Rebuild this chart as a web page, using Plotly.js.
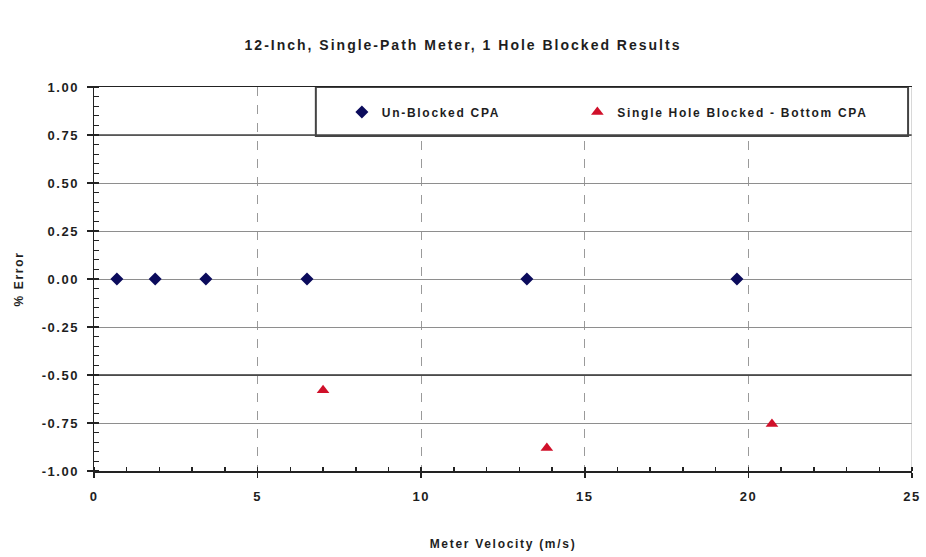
<!DOCTYPE html>
<html>
<head>
<meta charset="utf-8">
<script src="https://cdn.plot.ly/plotly-3.0.1.min.js"></script>
<style>
  html, body { margin: 0; padding: 0; background: #fff; }
  #chart { width: 926px; height: 557px; }
  .gtitle { letter-spacing: 2px; }
  .xtitle, .ytitle { letter-spacing: 1.7px; }
  text.legendtext, [class*="legend"] text { letter-spacing: 1.7px !important; }
  [class*="legend"] .scrollbox { clip-path: none !important; }
  #js-plotly-tester text { letter-spacing: 1.7px; }
  .xtick text, .ytick text { letter-spacing: 1.5px; }
</style>
</head>
<body>
<div id="chart"></div>
<script>
// ---- data ----
const unblockedX = [0.70, 1.87, 3.42, 6.51, 13.23, 19.65];
const unblockedY = [0.00, 0.00, 0.00, 0.00, 0.00, 0.00];
const blockedX = [7.00, 13.84, 20.72];
const blockedY = [-0.58, -0.88, -0.755];

const seriesNames = ['Un-Blocked CPA', 'Single Hole Blocked - Bottom CPA'];
const yTickVals = [-1, -0.75, -0.5, -0.25, 0, 0.25, 0.5, 0.75, 1];
const yTickText = ['-1.00', '-0.75', '-0.50', '-0.25', '0.00', '0.25', '0.50', '0.75', '1.00'];
const xTickVals = [0, 5, 10, 15, 20, 25];
const xTickText = ['0', '5', '10', '15', '20', '25'];

const FONT = '"Liberation Sans", Arial, Helvetica, sans-serif';
const INK = '#1e1e1e';

const traces = [
  {
    x: unblockedX, y: unblockedY, name: seriesNames[0],
    type: 'scatter', mode: 'markers', legend: 'legend',
    marker: { symbol: 'diamond', size: 10, color: '#0b0b5c' }
  },
  {
    x: blockedX, y: blockedY, name: seriesNames[1],
    type: 'scatter', mode: 'markers', legend: 'legend2',
    marker: { symbol: 'triangle-up', size: 11, color: '#d0102a' }
  }
];

const legendCommon = {
  orientation: 'h', xanchor: 'left', xref: 'paper',
  y: 0.935, yanchor: 'middle', yref: 'paper',
  bgcolor: 'rgba(0,0,0,0)', borderwidth: 0,
  font: { family: FONT, size: 12, weight: 700, color: INK },
  itemwidth: 30
};

const layout = {
  width: 926, height: 557,
  margin: { l: 94, r: 14, t: 87, b: 86 },
  paper_bgcolor: '#ffffff', plot_bgcolor: '#ffffff',
  font: { family: FONT, color: INK, size: 12 },
  showlegend: true,
  title: {
    text: '12-Inch, Single-Path Meter, 1 Hole Blocked Results',
    font: { family: FONT, size: 14, weight: 700, color: INK },
    xref: 'container', x: 0.5, xanchor: 'center',
    yref: 'container', y: 1 - 45 / 557, yanchor: 'middle'
  },
  xaxis: {
    range: [0, 25], fixedrange: true,
    tickmode: 'array', tickvals: xTickVals, ticktext: xTickText,
    ticks: 'outside', ticklen: 5, tickwidth: 1.5, tickcolor: '#222',
    showline: true, linecolor: '#222', linewidth: 1.5, mirror: true,
    showgrid: true, gridcolor: '#9a9a9a', griddash: 'dash', gridwidth: 1,
    zeroline: false,
    minor: { dtick: 1, tick0: 0, ticks: 'inside', ticklen: 4, tickwidth: 1.5, tickcolor: '#222', showgrid: false },
    tickfont: { family: FONT, size: 13, weight: 700, color: INK },
    ticklabelstandoff: 8,
    title: { text: 'Meter Velocity (m/s)', font: { family: FONT, size: 12, weight: 700, color: INK }, standoff: 36 }
  },
  xaxis2: {
    overlaying: 'x', anchor: 'y', side: 'bottom', range: [0, 25], fixedrange: true,
    tickmode: 'linear', tick0: 0, dtick: 1,
    ticks: 'outside', ticklen: 3, tickwidth: 1.5, tickcolor: '#222',
    showticklabels: false, showgrid: false, showline: false, zeroline: false
  },
  yaxis: {
    range: [-1, 1], fixedrange: true,
    tickmode: 'array', tickvals: yTickVals, ticktext: yTickText,
    ticks: 'outside', ticklen: 6, tickwidth: 1.5, tickcolor: '#222',
    showline: true, linecolor: '#222', linewidth: 1.5,
    showgrid: true, gridcolor: '#8e8e8e', gridwidth: 1,
    zeroline: false,
    minor: { dtick: 0.05, tick0: 0, ticks: 'inside', ticklen: 5, tickwidth: 1.2, tickcolor: '#222', showgrid: false },
    tickfont: { family: FONT, size: 13, weight: 700, color: INK },
    ticklabelstandoff: 5,
    title: { text: '% Error', font: { family: FONT, size: 12, weight: 700, color: INK }, standoff: 14 }
  },
  legend: Object.assign({}, legendCommon, { x: 0.303 }),
  legend2: Object.assign({}, legendCommon, { x: 0.5909 }),
  shapes: [
    {
      type: 'rect', xref: 'x', yref: 'y', layer: 'between',
      x0: 6.78, x1: 24.88, y0: 0.745, y1: 1.0,
      line: { color: '#444', width: 2 }, fillcolor: '#ffffff'
    },
    {
      type: 'line', xref: 'x', yref: 'y', layer: 'between',
      x0: 0, x1: 25, y0: 0.75, y1: 0.75,
      line: { color: '#444', width: 1.5 }
    },
    {
      type: 'line', xref: 'x', yref: 'y', layer: 'between',
      x0: 0, x1: 25, y0: -0.5, y1: -0.5,
      line: { color: '#333', width: 1.5 }
    },
    {
      type: 'line', xref: 'x', yref: 'y', layer: 'between',
      x0: 25, x1: 25, y0: -1, y1: 1,
      line: { color: '#b0b0b0', width: 1 }
    }
  ]
};

Plotly.newPlot('chart', traces, layout, { displayModeBar: false, staticPlot: true });
</script>
</body>
</html>
